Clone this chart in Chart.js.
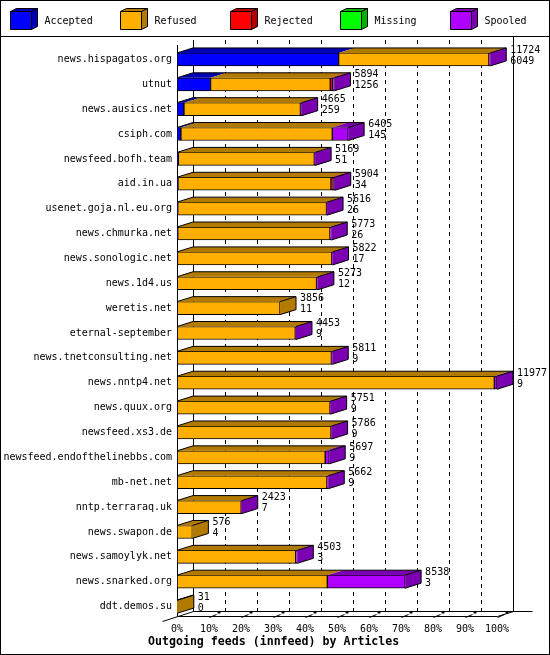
<!DOCTYPE html>
<html><head><meta charset="utf-8">
<script src="https://cdn.jsdelivr.net/npm/chart.js@4.4.1/dist/chart.umd.min.js"></script>
<style>html,body{margin:0;padding:0;background:#fff}canvas{display:block}</style>
</head><body>
<canvas id="c" width="550" height="655"></canvas>
<script>
const categories = ['news.hispagatos.org','utnut','news.ausics.net','csiph.com','newsfeed.bofh.team','aid.in.ua','usenet.goja.nl.eu.org','news.chmurka.net','news.sonologic.net','news.1d4.us','weretis.net','eternal-september','news.tnetconsulting.net','news.nntp4.net','news.quux.org','newsfeed.xs3.de','newsfeed.endofthelinebbs.com','mb-net.net','nntp.terraraq.uk','news.swapon.de','news.samoylyk.net','news.snarked.org','ddt.demos.su'];
const accepted = [6049,1256,259,145,51,34,26,26,17,12,11,9,9,9,9,9,9,9,7,4,3,3,0];
const refused  = [5625,4480,4360,5668,5090,5730,5570,5700,5780,5210,3845,4420,5770,11868,5720,5755,5538,5603,2396,572,4440,5623,31];
const rejected = [0,90,0,0,0,80,0,0,0,0,0,0,0,0,0,0,0,0,0,0,0,0,0];
const missing  = [0,0,0,0,0,0,0,0,0,0,0,0,0,0,0,0,0,0,0,0,0,0,0];
const spooled  = [50,68,46,592,28,60,20,47,25,51,0,24,32,100,22,22,150,50,20,0,60,2912,0];
const seriesNames = ['Accepted','Refused','Rejected','Missing','Spooled'];
const tickLabels = ['0%','10%','20%','30%','40%','50%','60%','70%','80%','90%','100%'];
const titleText = 'Outgoing feeds (innfeed) by Articles';

const FRONT = ['#0000ff','#ffaf00','#ff0000','#00ff00','#af00ff'];
const DARK  = ['#0000b2','#b27a00','#b20000','#00b200','#7a00b2'];
const DX = 16, DY = -5;
const FONT = 'DejaVu Sans Mono';
const series = [accepted, refused, rejected, missing, spooled];
const totals = categories.map((_, j) => series.reduce((s, a) => s + a[j], 0));
const MAXV = Math.max(...totals);

function poly(ctx, pts, fill, stroke) {
  ctx.beginPath();
  ctx.moveTo(pts[0][0], pts[0][1]);
  for (let k = 1; k < pts.length; k++) ctx.lineTo(pts[k][0], pts[k][1]);
  ctx.closePath();
  if (fill) { ctx.fillStyle = fill; ctx.fill(); }
  if (stroke) { ctx.strokeStyle = stroke; ctx.lineWidth = 1; ctx.stroke(); }
}

const framePlugin = {
  id: 'frame',
  beforeDraw(chart) {
    const ctx = chart.ctx;
    ctx.save();
    ctx.fillStyle = '#fff';
    ctx.fillRect(0, 0, chart.width, chart.height);
    ctx.strokeStyle = '#000'; ctx.lineWidth = 1;
    ctx.strokeRect(0.5, 0.5, chart.width - 1, chart.height - 1);
    ctx.beginPath(); ctx.moveTo(0, 36.5); ctx.lineTo(chart.width, 36.5); ctx.stroke();
    // legend
    ctx.font = '10px "' + FONT + '"';
    ctx.textBaseline = 'middle'; ctx.textAlign = 'left';
    chart.data.datasets.forEach((ds, i) => {
      const x0 = 10.5 + 110 * i, y0 = 11.5, w = 21, h = 18, dx = 6, dy = -3;
      poly(ctx, [[x0, y0], [x0 + dx, y0 + dy], [x0 + w + dx, y0 + dy], [x0 + w, y0]], DARK[i], '#000');
      poly(ctx, [[x0 + w, y0], [x0 + w + dx, y0 + dy], [x0 + w + dx, y0 + h + dy], [x0 + w, y0 + h]], DARK[i], '#000');
      poly(ctx, [[x0, y0], [x0 + w, y0], [x0 + w, y0 + h], [x0, y0 + h]], FRONT[i], '#000');
      ctx.fillStyle = '#000';
      ctx.fillText(ds.label, x0 + 34, 21);
    });
    ctx.restore();
  }
};

const wallPlugin = {
  id: 'wall',
  beforeDatasetsDraw(chart) {
    const ctx = chart.ctx, sx = chart.scales.x, ca = chart.chartArea;
    const f0 = Math.round(sx.getPixelForValue(0)) + 0.5;
    const f100 = Math.round(sx.getPixelForValue(MAXV)) + 0.5;
    const floorF = Math.round(ca.bottom - 3) + 0.5;
    const floorB = floorF + DY;
    ctx.save();
    ctx.strokeStyle = '#000'; ctx.lineWidth = 1;
    ctx.beginPath();
    ctx.moveTo(f0, 45); ctx.lineTo(f0, floorF);
    ctx.moveTo(f0 + DX, 40); ctx.lineTo(f0 + DX, floorB);
    ctx.moveTo(f100 + DX, 37); ctx.lineTo(f100 + DX, floorB);
    ctx.moveTo(f0 + DX, floorB); ctx.lineTo(f100 + DX + 19, floorB);
    ctx.moveTo(f0, floorF); ctx.lineTo(f100, floorF);
    ctx.moveTo(f0 - 15, floorF + 5); ctx.lineTo(f0 + DX, floorB);
    ctx.moveTo(f100, floorF); ctx.lineTo(f100 + DX, floorB);
    ctx.stroke();
    // dashed grid on back wall
    ctx.setLineDash([4, 4]);
    ctx.beginPath();
    for (let k = 1; k < tickLabels.length - 1; k++) {
      const p = Math.round(sx.getPixelForValue(MAXV * k / (tickLabels.length - 1))) + 0.5 + DX;
      ctx.moveTo(p, 40); ctx.lineTo(p, floorB);
    }
    ctx.stroke();
    ctx.setLineDash([]);
    // floor tick marks
    ctx.fillStyle = '#000';
    ctx.beginPath();
    for (let k = 1; k < tickLabels.length; k++) {
      const p = Math.round(sx.getPixelForValue(MAXV * k / (tickLabels.length - 1))) + 0.5;
      ctx.moveTo(p, floorF + 1); ctx.lineTo(p + 7, floorF - 2);
      ctx.fillRect(p + 8, floorB, 3, 2);
    }
    ctx.stroke();
    ctx.restore();
  }
};

const bar3dPlugin = {
  id: 'bar3d',
  afterDatasetsDraw(chart) {
    const ctx = chart.ctx;
    const n = chart.data.datasets.length;
    ctx.save();
    ctx.font = '10px "' + FONT + '"';
    ctx.textBaseline = 'middle'; ctx.textAlign = 'left';
    categories.forEach((c, j) => {
      let L0 = null, R = null, T = null, B = null, last = 0;
      for (let i = 0; i < n; i++) {
        const el = chart.getDatasetMeta(i).data[j];
        const p = el.getProps(['x', 'base', 'y', 'height'], true);
        const l = Math.min(p.x, p.base), r = Math.max(p.x, p.base);
        T = p.y - p.height / 2; B = p.y + p.height / 2;
        if (L0 === null) L0 = l;
        if (series[i][j] > 0) {
          poly(ctx, [[l, T], [l + DX, T + DY], [r + DX, T + DY], [r, T]], DARK[i], null);
          R = r; last = i;
        }
      }
      if (R === null) R = L0;
      poly(ctx, [[R, T], [R + DX, T + DY], [R + DX, B + DY], [R, B]], DARK[last], null);
      ctx.strokeStyle = '#000'; ctx.lineWidth = 1;
      ctx.beginPath();
      ctx.moveTo(L0, T); ctx.lineTo(L0 + DX, T + DY); ctx.lineTo(R + DX, T + DY);
      ctx.lineTo(R + DX, B + DY); ctx.lineTo(R, B);
      ctx.moveTo(R, T); ctx.lineTo(R + DX, T + DY);
      ctx.stroke();
      ctx.fillStyle = '#000';
      ctx.fillText(String(totals[j]), R + DX + 4, T - 3);
      ctx.fillText(String(accepted[j]), R + DX + 4, T + 8);
    });
    ctx.restore();
  },
  afterDraw(chart) {
    const ctx = chart.ctx;
    ctx.save();
    ctx.font = 'bold 11.6px "' + FONT + '"';
    ctx.fillStyle = '#000'; ctx.textBaseline = 'middle'; ctx.textAlign = 'left';
    ctx.fillText(titleText, 148, 642);
    ctx.restore();
  }
};

Chart.defaults.font.family = FONT;
Chart.defaults.font.size = 10;
Chart.defaults.color = '#000';

new Chart(document.getElementById('c'), {
  type: 'bar',
  data: {
    labels: categories,
    datasets: series.map((arr, i) => ({
      label: seriesNames[i],
      data: arr,
      backgroundColor: FRONT[i],
      borderColor: '#000',
      borderWidth: 1,
      borderSkipped: false,
      barThickness: 13
    }))
  },
  options: {
    indexAxis: 'y',
    responsive: false,
    animation: false,
    devicePixelRatio: 1,
    layout: { padding: { top: 47, right: 53, left: 0, bottom: 0 } },
    plugins: { legend: { display: false }, tooltip: { enabled: false }, title: { display: false } },
    scales: {
      x: {
        stacked: true, min: 0, max: MAXV,
        grid: { display: false, drawTicks: false }, border: { display: false },
        afterBuildTicks: s => { s.ticks = tickLabels.map((_, k) => ({ value: MAXV * k / (tickLabels.length - 1) })); },
        ticks: { padding: 4, maxRotation: 0, autoSkip: false, callback: (v, idx) => tickLabels[idx] },
        afterFit: s => { s.height = 36; }
      },
      y: {
        stacked: true,
        grid: { display: false, drawTicks: false }, border: { display: false },
        ticks: { padding: 5, autoSkip: false },
        afterFit: s => { s.width = 177; }
      }
    }
  },
  plugins: [framePlugin, wallPlugin, bar3dPlugin]
});
</script>
</body></html>
